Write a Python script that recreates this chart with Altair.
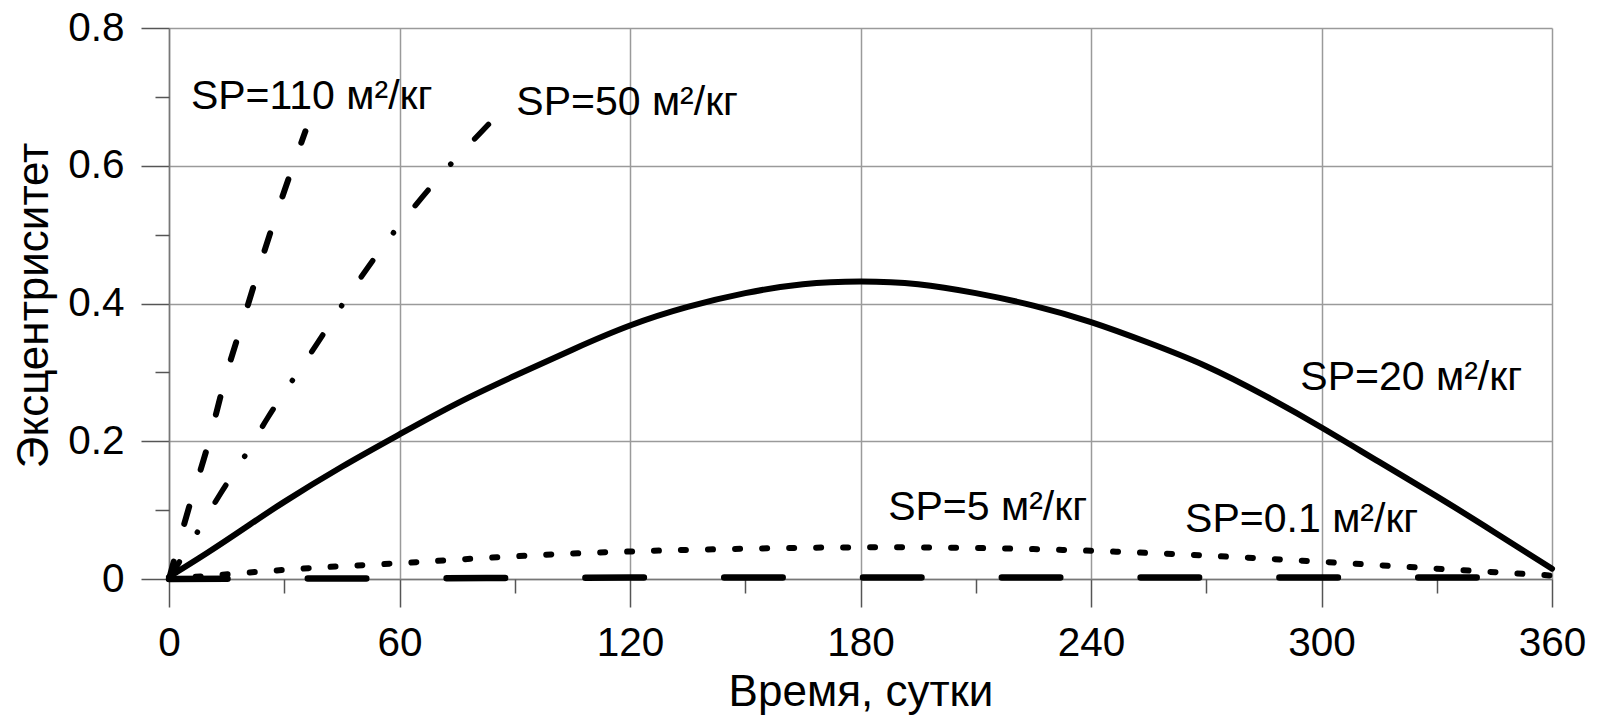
import altair as alt
import pandas as pd

# ---- data ----
t_sp20 = [0, 10, 20, 30, 45, 60, 75, 90, 105, 120, 135, 150, 165, 180, 195, 210, 225, 240, 255, 270, 285, 300, 315, 330, 345, 360]
e_sp20 = [0.003, 0.038, 0.075, 0.112, 0.163, 0.21, 0.255, 0.295, 0.333, 0.368, 0.395, 0.415, 0.428, 0.432, 0.428, 0.415, 0.397, 0.373, 0.343, 0.309, 0.267, 0.22, 0.17, 0.12, 0.068, 0.015]

t_sp5 = [0, 20, 40, 60, 90, 120, 150, 180, 210, 240, 270, 300, 330, 360]
e_sp5 = [0.0, 0.009, 0.017, 0.023, 0.033, 0.04, 0.044, 0.046, 0.045, 0.041, 0.034, 0.025, 0.015, 0.005]

t_sp01 = [0, 60, 120, 180, 240, 300, 360]
e_sp01 = [0.0, 0.001, 0.002, 0.002, 0.002, 0.002, 0.002]

t_sp110 = [0, 5, 10, 15, 20, 25, 30, 35.5]
e_sp110 = [0.0, 0.1, 0.192, 0.298, 0.388, 0.479, 0.563, 0.65]

t_sp50 = [0, 7.5, 13.4, 19.8, 25.8, 32.2, 38.7, 45.1, 51.6, 58.6, 66, 73.6, 81.8, 85]
e_sp50 = [0.0, 0.069, 0.124, 0.179, 0.235, 0.289, 0.343, 0.398, 0.451, 0.504, 0.555, 0.604, 0.652, 0.671]

label_text = ["SP=110 м²/кг", "SP=50 м²/кг", "SP=20 м²/кг", "SP=5 м²/кг", "SP=0.1 м²/кг"]
label_t = [5.7, 90.4, 294.5, 187.2, 264.5]
label_e = [0.682, 0.673, 0.274, 0.085, 0.068]

x_major = [0, 60, 120, 180, 240, 300, 360]
x_minor = [30, 90, 150, 210, 270, 330]
y_major = [0, 0.2, 0.4, 0.6, 0.8]
y_minor = [0.1, 0.3, 0.5, 0.7]

FONT = "Liberation Sans"

xs = alt.Scale(domain=[0, 360], nice=False, zero=False)
ys = alt.Scale(domain=[0, 0.8], nice=False)


def frame(t, e):
    return pd.DataFrame({"t": t, "e": e})


def line(df, width, dash=None, interp="monotone"):
    kw = dict(color="black", strokeWidth=width, strokeCap="round", interpolate=interp)
    if dash is not None:
        kw["strokeDash"] = dash
    return alt.Chart(df).mark_line(**kw).encode(
        x=alt.X("t:Q", scale=xs, axis=None),
        y=alt.Y("e:Q", scale=ys, axis=None),
    )


df20 = frame(t_sp20, e_sp20)

major = alt.Chart(df20).mark_point(opacity=0).encode(
    x=alt.X("t:Q", scale=xs, axis=alt.Axis(
        orient="bottom", values=x_major, format="d", title="Время, сутки",
        tickSize=28, tickColor="#555", tickWidth=1.5,
        domainColor="#777", domainWidth=1.5,
        grid=True, gridColor="#9a9a9a", gridWidth=1.5,
        labelFont=FONT, labelFontSize=40.5, labelColor="black", labelPadding=16,
        labelFlush=False, labelOverlap=False,
        titleFont=FONT, titleFontSize=44, titleFontWeight="normal", titleColor="black",
        titleBaseline="alphabetic", titleY=126)),
    y=alt.Y("e:Q", scale=ys, axis=alt.Axis(
        orient="left", values=y_major, format=".1~f", title="Эксцентриситет",
        tickSize=28, tickColor="#555", tickWidth=1.5,
        domainColor="#777", domainWidth=1.5,
        grid=True, gridColor="#9a9a9a", gridWidth=1.5,
        labelFont=FONT, labelFontSize=40.5, labelColor="black", labelPadding=17,
        labelFlush=False, labelOverlap=False,
        titleFont=FONT, titleFontSize=44, titleFontWeight="normal", titleColor="black",
        titleAngle=270, titleBaseline="alphabetic", titleAlign="center",
        titleX=-122, titleY=277)),
)

minor = alt.Chart(df20).mark_point(opacity=0).encode(
    x=alt.X("t:Q", scale=xs, axis=alt.Axis(
        orient="bottom", values=x_minor, labels=False, domain=False, grid=False,
        title=None, tickSize=14, tickColor="#555", tickWidth=1.5)),
    y=alt.Y("e:Q", scale=ys, axis=alt.Axis(
        orient="left", values=y_minor, labels=False, domain=False, grid=False,
        title=None, tickSize=14, tickColor="#555", tickWidth=1.5)),
)

l20 = line(df20, 6, interp="natural")
l5 = line(frame(t_sp5, e_sp5), 6, [5, 22], interp="natural")
l01 = line(frame(t_sp01, e_sp01), 6.5, [58.5, 80.3])
l110 = line(frame(t_sp110, e_sp110), 6, [18, 39])
l50 = line(frame(t_sp50, e_sp50), 5.5, [20, 34.7, 0.1, 34.7])

labels = alt.Chart(pd.DataFrame({"t": label_t, "e": label_e, "txt": label_text})).mark_text(
    align="left", baseline="alphabetic", font=FONT, fontSize=41, color="black"
).encode(
    x=alt.X("t:Q", scale=xs, axis=None),
    y=alt.Y("e:Q", scale=ys, axis=None),
    text="txt:N",
)

chart = alt.layer(major, minor, l01, l5, l20, l50, l110, labels).resolve_axis(
    x="independent", y="independent"
).properties(
    width=1383, height=551,
    autosize=alt.AutoSizeParams(type="none"),
    padding={"left": 161, "top": 20, "right": 44, "bottom": 137},
    background="white",
).configure_view(strokeWidth=0)

chart.save("out.html", embed_options={"renderer": "svg", "actions": False})
